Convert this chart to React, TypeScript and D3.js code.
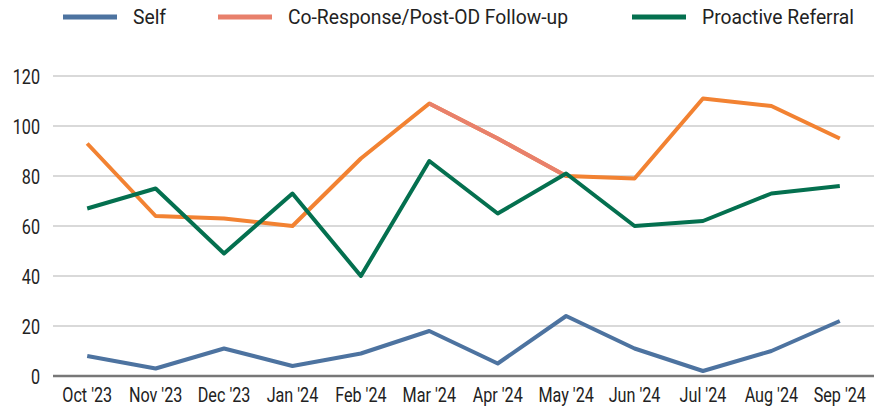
import React from "react";
import * as d3 from "d3";

const months = ["Oct '23", "Nov '23", "Dec '23", "Jan '24", "Feb '24", "Mar '24", "Apr '24", "May '24", "Jun '24", "Jul '24", "Aug '24", "Sep '24"];
const selfVals = [8, 3, 11, 4, 9, 18, 5, 24, 11, 2, 10, 22];
const coResponseVals = [93, 64, 63, 60, 87, 109, 95, 80, 79, 111, 108, 95];
const proactiveVals = [67, 75, 49, 73, 40, 86, 65, 81, 60, 62, 73, 76];
const highlightMonths = ["Mar '24", "Apr '24", "May '24"];
const yTicks = [0, 20, 40, 60, 80, 100, 120];

const seriesNames = ["Self", "Co-Response/Post-OD Follow-up", "Proactive Referral"];
const colors = ["#4d73a0", "#e8806c", "#04704f"];
const orange = "#f28232";

const W = 874, H = 408;
const left = 53, right = 874, top = 76, bottom = 376;
const SX = 0.77;

export default function App() {
  const x = d3.scaleBand<string>().domain(months).range([left, right]);
  const cx = (m: string) => (x(m) as number) + x.bandwidth() / 2;
  const y = d3.scaleLinear().domain([0, 120]).range([bottom, top]);
  const line = d3.line<[string, number]>().x(d => cx(d[0])).y(d => y(d[1]));
  const zip = (vals: number[]) => months.map((m, i) => [m, vals[i]] as [string, number]);
  const hl = zip(coResponseVals).filter(d => highlightMonths.includes(d[0]));
  const legendX = [63, 218, 632];
  const font = "Roboto, sans-serif";
  return (
    <svg width={W} height={H} style={{ position: "absolute", left: 0, top: 0 }}>
      {yTicks.map(t => (
        <g key={t}>
          {t !== 0 && <line x1={left} x2={right} y1={y(t)} y2={y(t)} stroke="#cccccc" strokeWidth={1.5} />}
          <text transform={`translate(40,${y(t) + 7.5}) scale(${SX},1)`} textAnchor="end" fontFamily={font} fontSize={21} fill="#222">{t}</text>
        </g>
      ))}
      <line x1={left} x2={right} y1={y(0)} y2={y(0)} stroke="#777" strokeWidth={2.5} />
      {months.map(m => (
        <text key={m} transform={`translate(${cx(m)},402) scale(${SX},1)`} textAnchor="middle" fontFamily={font} fontSize={21} fill="#222">{m}</text>
      ))}
      <path d={line(zip(selfVals)) || ""} fill="none" stroke={colors[0]} strokeWidth={4} strokeLinejoin="round" />
      <path d={line(zip(coResponseVals)) || ""} fill="none" stroke={orange} strokeWidth={4} strokeLinejoin="round" />
      <path d={line(hl) || ""} fill="none" stroke={colors[1]} strokeWidth={4} strokeLinejoin="round" />
      <path d={line(zip(proactiveVals)) || ""} fill="none" stroke={colors[2]} strokeWidth={4} strokeLinejoin="round" />
      {seriesNames.map((n, i) => (
        <g key={n}>
          <line x1={legendX[i]} x2={legendX[i] + 54} y1={17} y2={17} stroke={colors[i]} strokeWidth={5} />
          <text x={legendX[i] + 70} y={24} fontFamily={font} fontSize={19.3} fill="#222">{n}</text>
        </g>
      ))}
    </svg>
  );
}
